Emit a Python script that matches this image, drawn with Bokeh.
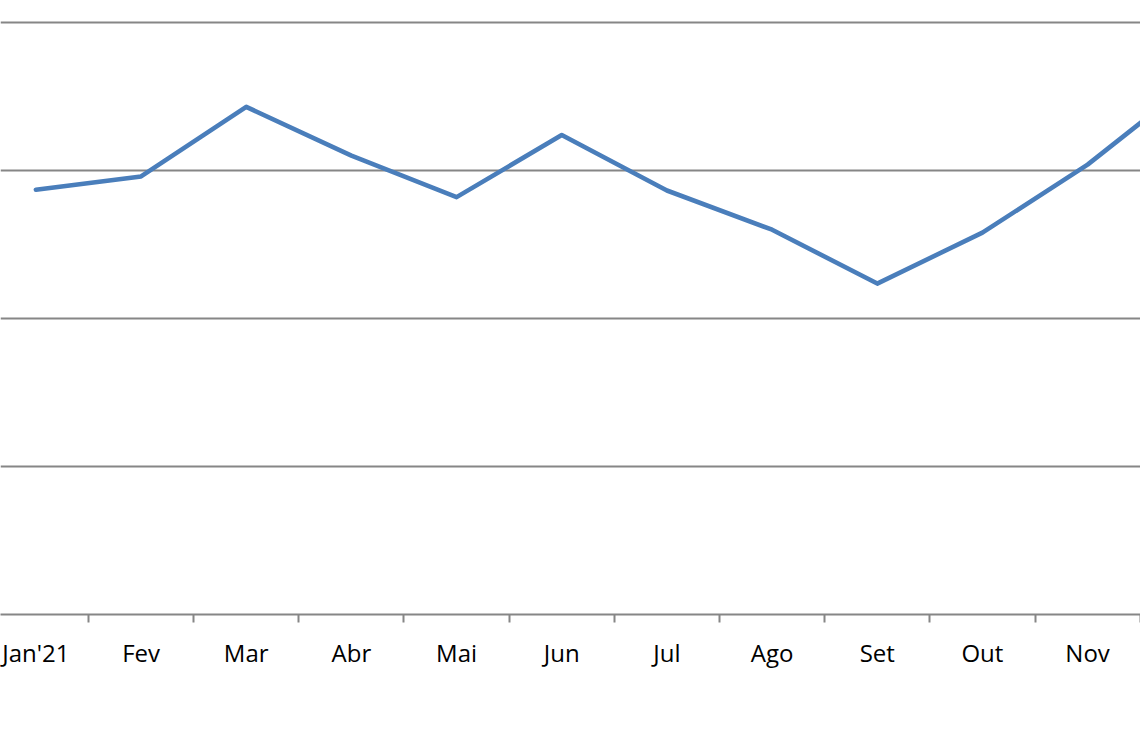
from bokeh.plotting import figure
from bokeh.models import Range1d, FixedTicker
from bokeh.embed import file_html
from bokeh.resources import INLINE

months = ["Jan'21", "Fev", "Mar", "Abr", "Mai", "Jun", "Jul", "Ago", "Set", "Out", "Nov", "Dez"]
values = [2.87, 2.96, 3.43, 3.10, 2.82, 3.24, 2.865, 2.60, 2.236, 2.58, 3.04, 3.60]
grid_ticks = [1, 2, 3, 4]

xs = list(range(len(months)))

p = figure(width=1140, height=742, output_backend="svg", toolbar_location=None,
           x_range=Range1d(-0.3365, 10.503), y_range=Range1d(0, 4.0135),
           min_border_left=0, min_border_right=0, min_border_top=20, min_border_bottom=128)
p.outline_line_color = None
p.background_fill_color = "white"
p.border_fill_color = "white"

p.line(xs, values, line_color="#4A7EBB", line_width=4.6, line_join="round", line_cap="round")

p.yaxis.visible = False
p.ygrid.ticker = FixedTicker(ticks=grid_ticks)
p.ygrid.grid_line_color = "#868686"
p.ygrid.grid_line_width = 2
p.xgrid.grid_line_color = None

ax = p.xaxis[0]
ax.ticker = FixedTicker(ticks=xs, minor_ticks=[i + 0.5 for i in range(len(months))])
ax.major_label_overrides = {i: m for i, m in enumerate(months)}
ax.axis_line_color = "#868686"
ax.axis_line_width = 2
ax.major_tick_line_color = None
ax.major_tick_out = 6
ax.major_tick_in = 0
ax.minor_tick_line_color = "#868686"
ax.minor_tick_line_width = 2
ax.minor_tick_out = 8
ax.minor_tick_in = 0
ax.major_label_text_font = "Open Sans"
ax.major_label_text_font_size = "24px"
ax.major_label_text_color = "black"
ax.major_label_standoff = 13

open("out.html", "w").write(file_html(p, INLINE))
